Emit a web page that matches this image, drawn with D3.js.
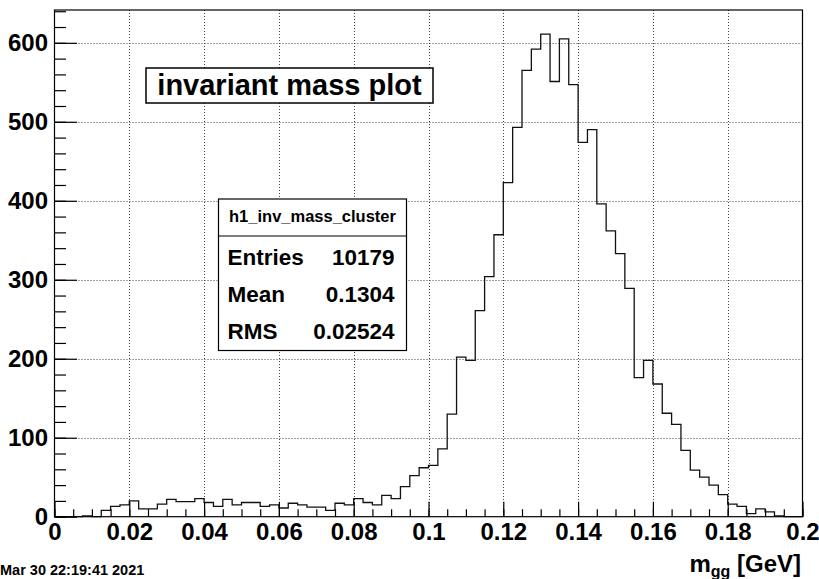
<!DOCTYPE html>
<html>
<head>
<meta charset="utf-8">
<script src="https://cdn.jsdelivr.net/npm/d3@7"></script>
<style>
  html, body { margin: 0; padding: 0; background: #fff; }
  svg { display: block; }
  text { font-family: "Liberation Sans", Arial, Helvetica, sans-serif; font-weight: bold; fill: #000; }
</style>
</head>
<body>
<div id="chart"></div>
<script>
// Histogram h1_inv_mass_cluster: 80 bins of width 0.0025 GeV from 0 to 0.2
const binLow = 0;
const binWidth = 0.0025;
const binCounts = [
  0, 0, 0, 1, 0, 8, 13, 15,
  20, 10, 10, 16, 22, 19, 19, 23,
  18, 13, 22, 15, 18, 18, 13, 15,
  11, 17, 15, 12, 12, 8, 17, 15,
  23, 18, 15, 27, 23, 38, 52, 62,
  65, 86, 130, 202, 198, 261, 304, 357,
  423, 493, 565, 592, 611, 551, 605, 547,
  474, 490, 396, 362, 333, 289, 176, 198,
  168, 131, 117, 84, 59, 50, 40, 28,
  16, 13, 4, 10, 6, 1, 0, 0
];

// Axis ticks
const xTickValues = [0, 0.02, 0.04, 0.06, 0.08, 0.1, 0.12, 0.14, 0.16, 0.18, 0.2];
const xTickLabels = ["0", "0.02", "0.04", "0.06", "0.08", "0.1", "0.12", "0.14", "0.16", "0.18", "0.2"];
const xMinorStep = 0.005;
const yTickValues = [0, 100, 200, 300, 400, 500, 600];
const yTickLabels = ["0", "100", "200", "300", "400", "500", "600"];
const yMinorStep = 20;

// Text panels
const titleText = "invariant mass plot";
const statsTitle = "h1_inv_mass_cluster";
const statsNames = ["Entries", "Mean", "RMS"];
const statsValues = ["10179", "0.1304", "0.02524"];
const dateText = "Mar 30 22:19:41 2021";

const W = 819, H = 579;
const frame = { left: 54.5, top: 10, right: 802.5, bottom: 516.7 };

const svg = d3.select("#chart").append("svg")
  .attr("width", W).attr("height", H);

const nBins = binCounts.length;
const xMax = binLow + nBins * binWidth;
const yMax = d3.max(binCounts) * 1.05;

const x = d3.scaleLinear().domain([binLow, xMax]).range([frame.left, frame.right]);
const y = d3.scaleLinear().domain([0, yMax]).range([frame.bottom, frame.top]);

// Dotted grid at major ticks
const grid = svg.append("g").attr("stroke", "#444").attr("stroke-width", 1)
  .attr("stroke-dasharray", "1,2");
grid.selectAll("line.gx")
  .data(xTickValues.filter(v => v > binLow && v < xMax))
  .join("line").attr("class", "gx")
  .attr("x1", d => Math.round(x(d)) + 0.5).attr("x2", d => Math.round(x(d)) + 0.5)
  .attr("y1", frame.top).attr("y2", frame.bottom);
grid.selectAll("line.gy")
  .data(yTickValues.filter(v => v > 0))
  .join("line").attr("class", "gy")
  .attr("x1", frame.left).attr("x2", frame.right)
  .attr("y1", d => Math.round(y(d)) + 0.5).attr("y2", d => Math.round(y(d)) + 0.5);

// Histogram outline (step line)
const stepPts = [[binLow, 0]];
binCounts.forEach((c, i) => {
  const lo = binLow + i * binWidth;
  stepPts.push([lo, c], [lo + binWidth, c]);
});
stepPts.push([xMax, 0]);
const line = d3.line().x(d => x(d[0])).y(d => y(d[1]));
svg.append("path")
  .attr("d", line(stepPts))
  .attr("fill", "none")
  .attr("stroke", "#111")
  .attr("stroke-width", 1.3);

// Frame
svg.append("rect")
  .attr("x", frame.left).attr("y", frame.top)
  .attr("width", frame.right - frame.left).attr("height", frame.bottom - frame.top)
  .attr("fill", "none").attr("stroke", "#000").attr("stroke-width", 1.2);

// Minor ticks
const xMinor = d3.range(0, Math.round((xMax - binLow) / xMinorStep) + 1)
  .map(k => binLow + k * xMinorStep);
svg.append("g")
  .attr("transform", `translate(0,${frame.bottom})`)
  .call(d3.axisBottom(x).tickValues(xMinor).tickSize(-7.5).tickFormat(""))
  .call(g => g.select(".domain").remove())
  .selectAll("line").attr("stroke", "#000").attr("stroke-width", 1.2);

const yMinor = d3.range(0, Math.floor(yMax / yMinorStep) + 1).map(k => k * yMinorStep);
svg.append("g")
  .attr("transform", `translate(${frame.left},0)`)
  .call(d3.axisLeft(y).tickValues(yMinor).tickSize(-11.5).tickFormat(""))
  .call(g => g.select(".domain").remove())
  .selectAll("line").attr("stroke", "#000").attr("stroke-width", 1.2);

// Major ticks and labels
const xAxis = svg.append("g")
  .attr("transform", `translate(0,${frame.bottom})`)
  .call(d3.axisBottom(x).tickValues(xTickValues).tickSize(-15).tickPadding(6)
    .tickFormat((d, i) => xTickLabels[i]));
xAxis.select(".domain").remove();
xAxis.selectAll("line").attr("stroke", "#000").attr("stroke-width", 1.2);
xAxis.selectAll("text").attr("font-size", 24).attr("font-family", null);

const yAxis = svg.append("g")
  .attr("transform", `translate(${frame.left},0)`)
  .call(d3.axisLeft(y).tickValues(yTickValues).tickSize(-22.5).tickPadding(6.5)
    .tickFormat((d, i) => yTickLabels[i]));
yAxis.select(".domain").remove();
yAxis.selectAll("line").attr("stroke", "#000").attr("stroke-width", 1.2);
yAxis.selectAll("text").attr("font-size", 24).attr("font-family", null);

// X axis title: m_gg [GeV]
const xTitle = svg.append("text")
  .attr("x", 801).attr("y", 571.5)
  .attr("text-anchor", "end")
  .attr("font-size", 24);
xTitle.append("tspan").text("m");
xTitle.append("tspan").attr("font-size", 16).attr("dy", 5).text("gg");
xTitle.append("tspan").attr("dy", -5).text(" [GeV]");

// Date stamp
svg.append("text")
  .attr("x", 0).attr("y", 575)
  .attr("font-size", 14.5)
  .text(dateText);

// Title box
const tb = { x: 146, y: 68, w: 287, h: 35 };
svg.append("rect")
  .attr("x", tb.x).attr("y", tb.y).attr("width", tb.w).attr("height", tb.h)
  .attr("fill", "#fff").attr("stroke", "#000").attr("stroke-width", 1.5);
svg.append("text")
  .attr("x", tb.x + tb.w / 2).attr("y", tb.y + 26.5)
  .attr("text-anchor", "middle")
  .attr("font-size", 29)
  .text(titleText);

// Statistics box
const sb = { x: 218.5, y: 199, w: 188, h: 151.5, head: 37 };
svg.append("rect")
  .attr("x", sb.x).attr("y", sb.y).attr("width", sb.w).attr("height", sb.h)
  .attr("fill", "#fff").attr("stroke", "#000").attr("stroke-width", 1.2);
svg.append("line")
  .attr("x1", sb.x).attr("x2", sb.x + sb.w)
  .attr("y1", sb.y + sb.head).attr("y2", sb.y + sb.head)
  .attr("stroke", "#000").attr("stroke-width", 1.2);
svg.append("text")
  .attr("x", sb.x + sb.w / 2).attr("y", sb.y + 23)
  .attr("text-anchor", "middle")
  .attr("font-size", 16.5)
  .text(statsTitle);
const rowY = [264.5, 301.5, 338.5];
statsNames.forEach((n, i) => {
  svg.append("text")
    .attr("x", sb.x + 9).attr("y", rowY[i])
    .attr("font-size", 22.5)
    .text(n);
  svg.append("text")
    .attr("x", sb.x + sb.w - 12).attr("y", rowY[i])
    .attr("text-anchor", "end")
    .attr("font-size", 22.5)
    .text(statsValues[i]);
});
</script>
</body>
</html>
